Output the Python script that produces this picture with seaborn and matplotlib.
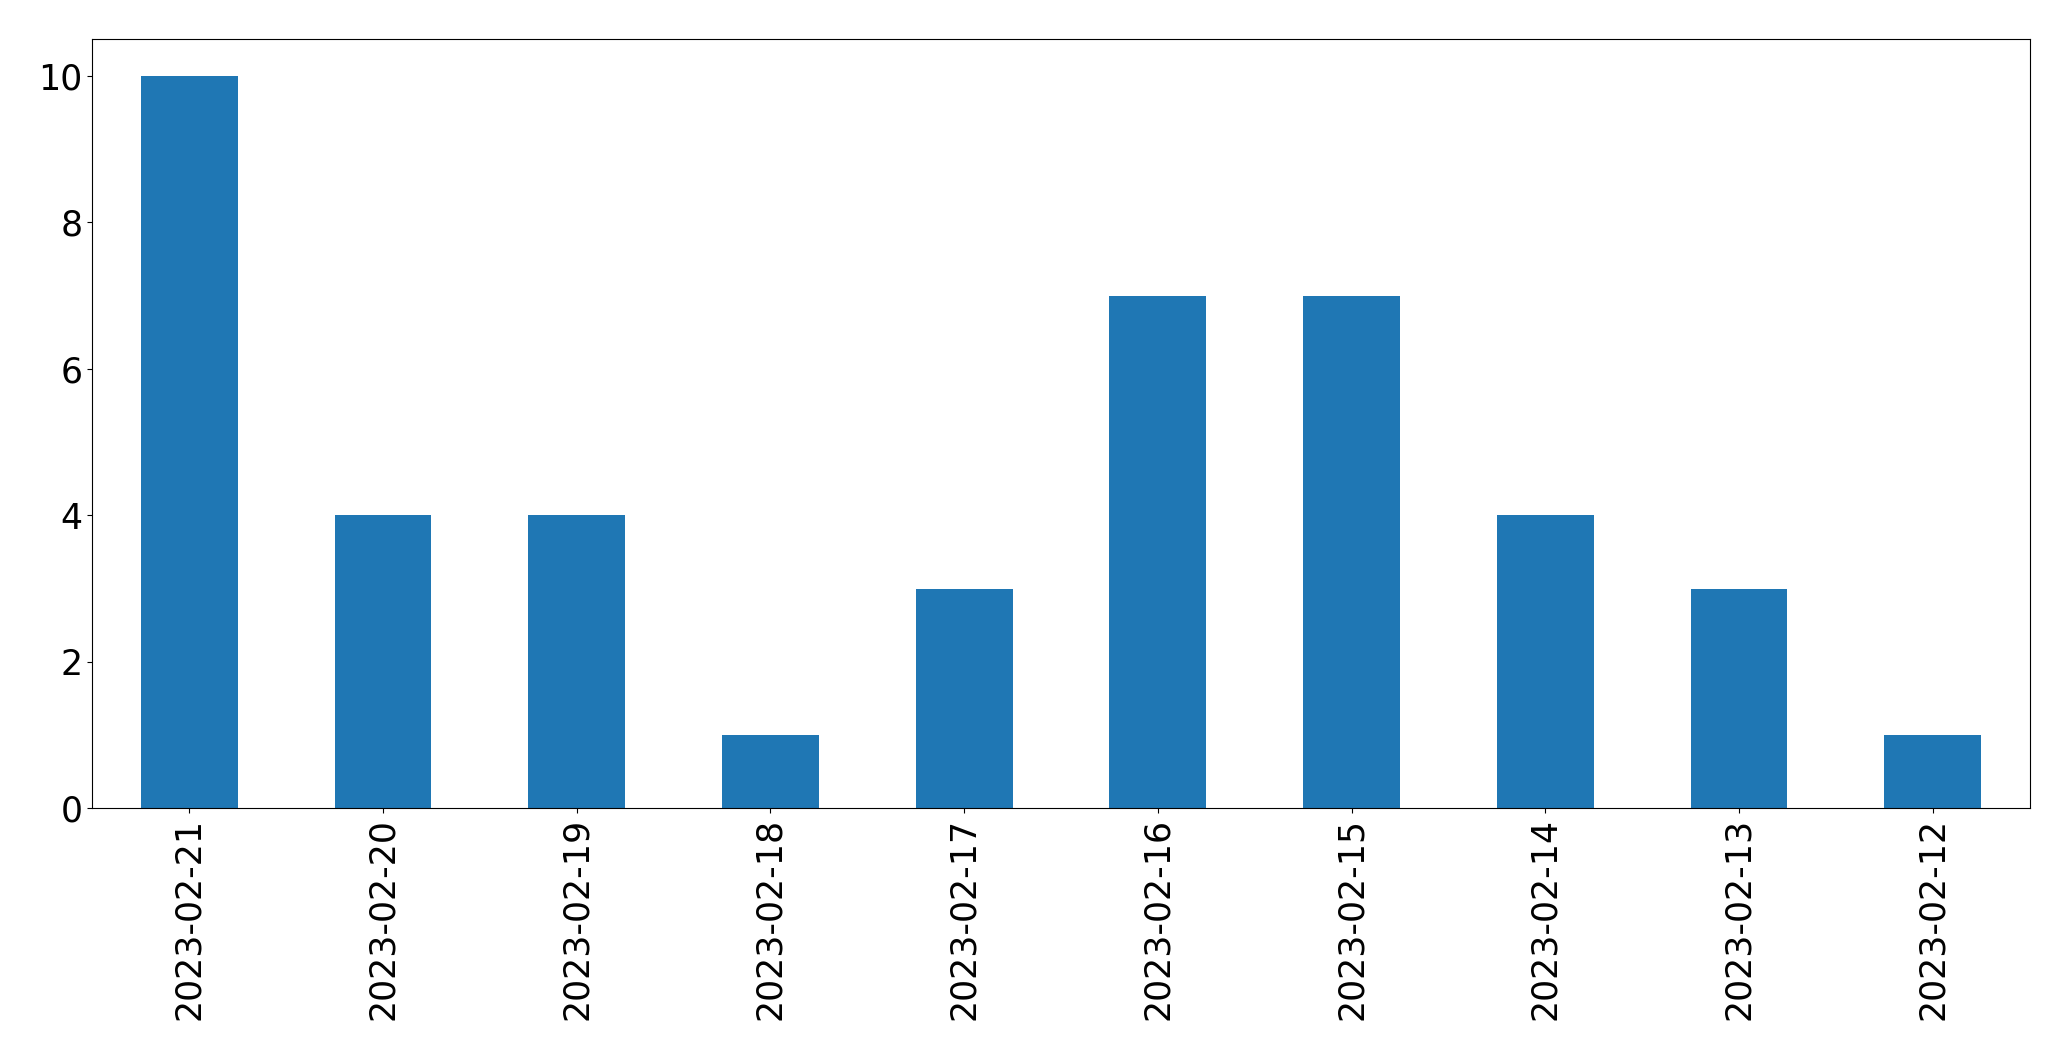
import matplotlib
matplotlib.use("Agg")
import matplotlib.pyplot as plt
import seaborn as sns
import pandas as pd

# =====================================================
# DATA
# =====================================================

dates = [
    "2023-02-21", "2023-02-20", "2023-02-19", "2023-02-18", "2023-02-17",
    "2023-02-16", "2023-02-15", "2023-02-14", "2023-02-13", "2023-02-12",
]
counts = [10, 4, 4, 1, 3, 7, 7, 4, 3, 1]

df = pd.DataFrame({"date": dates, "count": counts})

# =====================================================
# PLOT
# =====================================================

fig = plt.figure(figsize=(20.71, 10.61), dpi=100)
ax = fig.add_axes([0.0446, 0.238, 0.9354, 0.725])

sns.barplot(
    data=df,
    x="date",
    y="count",
    order=dates,
    color="#1f77b4",
    saturation=1,
    width=0.5,
    linewidth=0,
    ax=ax
)

ax.set_xlabel("")
ax.set_ylabel("")
ax.set_xlim(-0.5, len(dates) - 0.5)
ax.set_ylim(0, 10.5)
ax.set_yticks([0, 2, 4, 6, 8, 10])
ax.tick_params(axis="both", labelsize=25)
ax.tick_params(axis="x", rotation=90)

fig.savefig("out.png", dpi=100)
